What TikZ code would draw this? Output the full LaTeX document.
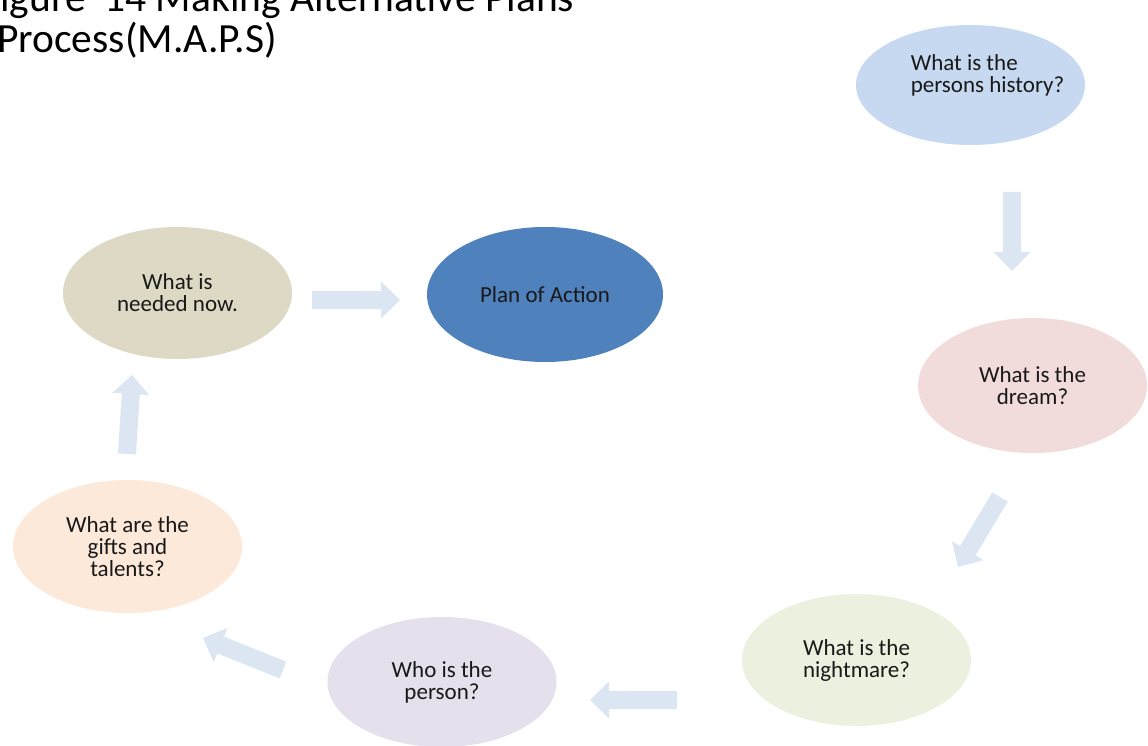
\documentclass[tikz,border=0pt]{standalone}
\usepackage{fontspec}
\setmainfont{Carlito}
\usetikzlibrary{calc,shapes.geometric}
\definecolor{cHist}{HTML}{C6D9F0}
\definecolor{cDream}{HTML}{F2DCDB}
\definecolor{cNight}{HTML}{EBF1DE}
\definecolor{cPerson}{HTML}{E5E0EC}
\definecolor{cGifts}{HTML}{FDE9D9}
\definecolor{cNeed}{HTML}{DDD9C4}
\definecolor{cPlan}{HTML}{4F81BD}
\definecolor{cArrow}{HTML}{DCE6F2}
\newcommand\blkarrow[2]{%
  \coordinate (tmpb) at ($(#2)!19pt!(#1)$);
  \fill[arrowfill] ($(#1)!9pt!90:(#2)$) -- ($(tmpb)!9pt!90:(#2)$) -- ($(tmpb)!18.5pt!90:(#2)$) -- (#2)
     -- ($(tmpb)!18.5pt!-90:(#2)$) -- ($(tmpb)!9pt!-90:(#2)$) -- ($(#1)!9pt!-90:(#2)$) -- cycle;}
\begin{document}
\begin{tikzpicture}[x=1pt,y=-1pt,
  bubble/.style={ellipse, inner sep=0pt, minimum width=229pt, minimum height=132pt, draw=none,
     font=\fontsize{23}{22}\selectfont, align=center, text=black!90},
  label/.style={inner sep=0pt, font=\fontsize{23}{22}\selectfont, text=black!90},
  title/.style={anchor=base west, inner sep=0pt, font=\fontsize{41.5}{42}\selectfont, text=black},
  arrowfill/.style={fill=cArrow}]
\useasboundingbox (0,0) rectangle (1148,746);
\clip (0,0) rectangle (1148,746);

% title
\node[title] (t1) at (-19,12) {Figure\ \ 14 Making Alternative Plans};
\node[title] (t2) at (-3,53) {Process(M.A.P.S)};

% ellipses
\node[bubble, fill=cHist, minimum height=120pt] (hist) at (970.5,85) {};
\node[label, align=left] (histtxt) at (987.5,75) {What is the\\persons history?};
\node[bubble, fill=cDream, minimum height=135pt] (dream) at (1032.5,385.5) {What is the\\dream?};
\node[bubble, fill=cNight] (night) at (856.5,660) {What is the\\nightmare?};
\node[bubble, fill=cPerson, minimum height=130pt] (person) at (442,682) {Who is the\\person?};
\node[bubble, fill=cGifts, minimum height=133pt] (gifts) at (127.5,546.5) {What are the\\gifts and\\talents?};
\node[bubble, fill=cNeed] (need) at (177.5,293) {What is\\needed now.};
\node[bubble, fill=cPlan, minimum width=236pt, minimum height=135pt] (plan) at (545,294.5) {Plan of Action};

% block arrows
\coordinate (a1s) at (1012,192);  \coordinate (a1e) at (1012,271);
\coordinate (a2s) at (1000,497);  \coordinate (a2e) at (958,567);
\coordinate (a3s) at (677,700);   \coordinate (a3e) at (590,700);
\coordinate (a4s) at (283,670);   \coordinate (a4e) at (203,638);
\coordinate (a5s) at (127,454);   \coordinate (a5e) at (132,375);
\coordinate (a6s) at (312,300);   \coordinate (a6e) at (400,300);
\blkarrow{a1s}{a1e}
\blkarrow{a2s}{a2e}
\blkarrow{a3s}{a3e}
\blkarrow{a4s}{a4e}
\blkarrow{a5s}{a5e}
\blkarrow{a6s}{a6e}
\end{tikzpicture}
\end{document}
